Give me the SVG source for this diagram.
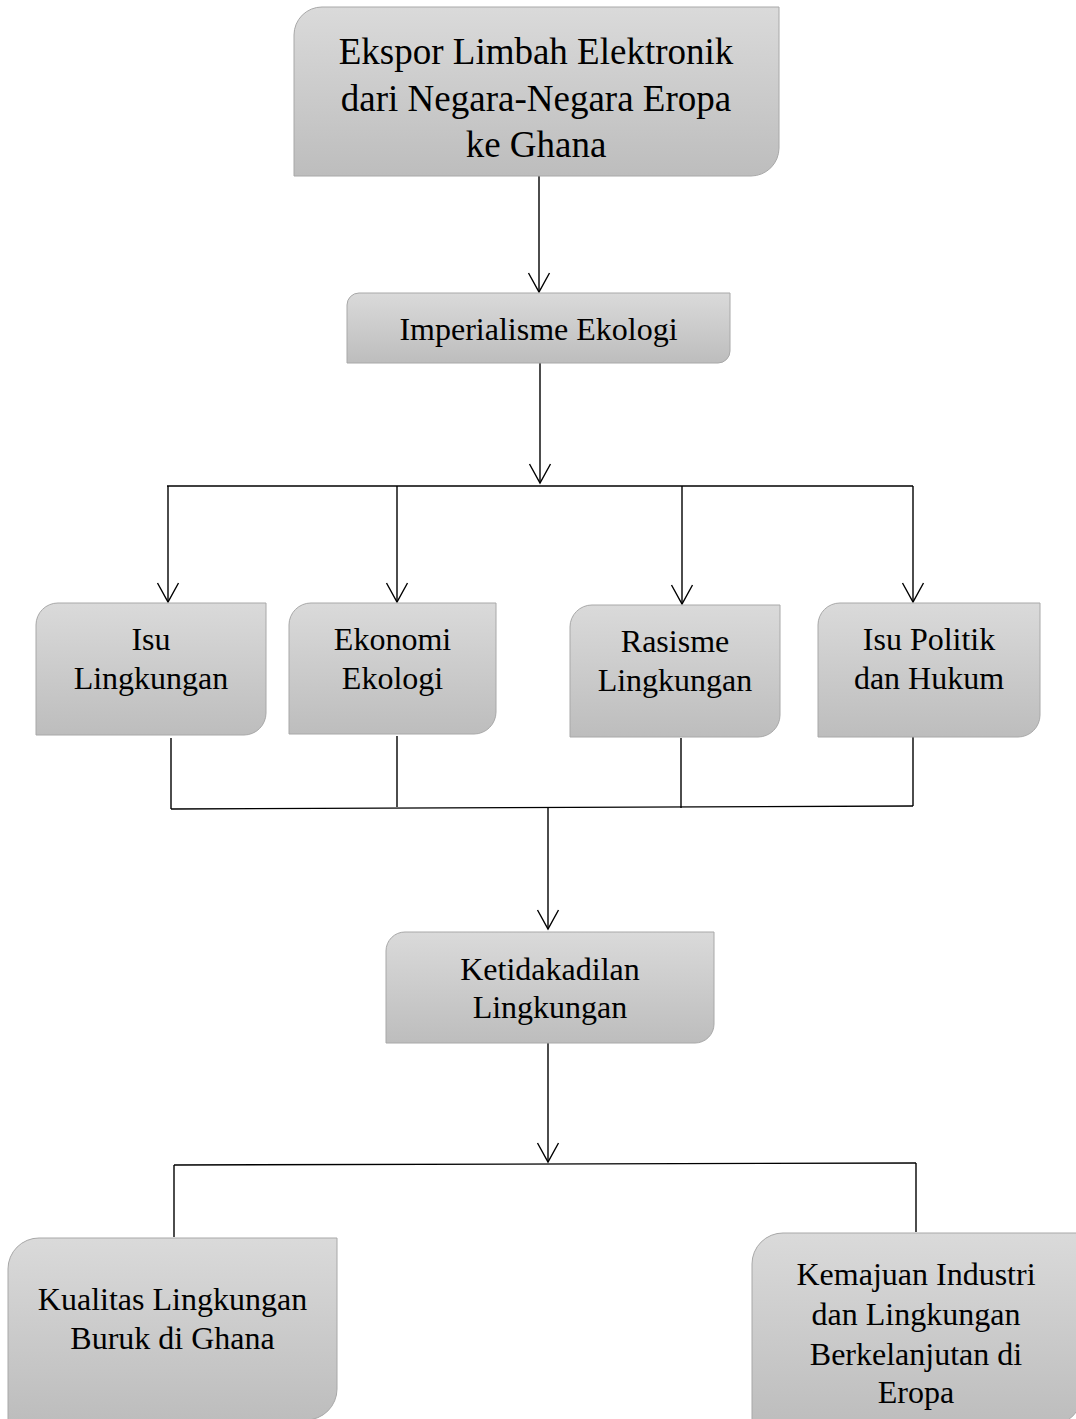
<svg xmlns="http://www.w3.org/2000/svg" width="1076" height="1419" viewBox="0 0 1076 1419">
<defs>
<linearGradient id="g" x1="0" y1="0" x2="0" y2="1">
<stop offset="0" stop-color="#dadada"/>
<stop offset="1" stop-color="#bdbdbd"/>
</linearGradient>
<marker id="arr" markerUnits="userSpaceOnUse" markerWidth="40" markerHeight="40" refX="0" refY="0" orient="auto" overflow="visible">
<path d="M-19,-10.5 L0,0 L-19,10.5" fill="none" stroke="#000" stroke-width="1.4"/>
</marker>
</defs>
<style>
.box{fill:url(#g);stroke:#a8a8a8;stroke-width:1}
.t{font-family:"Liberation Serif","Times New Roman",serif;font-size:32px;fill:#000;text-anchor:middle}
.big{font-size:37px}
.c{fill:none;stroke:#000;stroke-width:1.4}
</style>
<rect width="1076" height="1419" fill="#fff"/>
<g id="connectors">
<line class="c" x1="539" y1="176" x2="539" y2="292" marker-end="url(#arr)"/>
<line class="c" x1="540" y1="363" x2="540" y2="483" marker-end="url(#arr)"/>
<line class="c" x1="167" y1="486" x2="913" y2="486"/>
<line class="c" x1="168" y1="486" x2="168" y2="602" marker-end="url(#arr)"/>
<line class="c" x1="397" y1="486" x2="397" y2="602" marker-end="url(#arr)"/>
<line class="c" x1="682" y1="486" x2="682" y2="604" marker-end="url(#arr)"/>
<line class="c" x1="913" y1="486" x2="913" y2="602" marker-end="url(#arr)"/>
<line class="c" x1="171" y1="738" x2="171" y2="809"/>
<line class="c" x1="397" y1="736" x2="397" y2="807"/>
<line class="c" x1="681" y1="738" x2="681" y2="808"/>
<line class="c" x1="913" y1="737" x2="913" y2="806"/>
<line class="c" x1="171" y1="809" x2="913" y2="806"/>
<line class="c" x1="548" y1="808" x2="548" y2="929" marker-end="url(#arr)"/>
<line class="c" x1="548" y1="1043" x2="548" y2="1162" marker-end="url(#arr)"/>
<line class="c" x1="174" y1="1165" x2="916" y2="1163"/>
<line class="c" x1="174" y1="1165" x2="174" y2="1237"/>
<line class="c" x1="916" y1="1163" x2="916" y2="1232"/>
</g>
<g id="n1">
<path class="box" d="M294,35 A28,28 0 0 1 322,7 H779 V148 A28,28 0 0 1 751,176 H294 Z"/>
<text class="t big" x="536" y="64">Ekspor Limbah Elektronik</text>
<text class="t big" x="536" y="111">dari Negara-Negara Eropa</text>
<text class="t big" x="536" y="157">ke Ghana</text>
</g>
<g id="n2">
<path class="box" d="M347,305 A12,12 0 0 1 359,293 H730 V351 A12,12 0 0 1 718,363 H347 Z"/>
<text class="t" x="538.5" y="340">Imperialisme Ekologi</text>
</g>
<g id="n3">
<path class="box" d="M36,625 A22,22 0 0 1 58,603 H266 V713 A22,22 0 0 1 244,735 H36 Z"/>
<text class="t" x="151" y="650">Isu</text>
<text class="t" x="151" y="689">Lingkungan</text>
</g>
<g id="n4">
<path class="box" d="M289,625 A22,22 0 0 1 311,603 H496 V712 A22,22 0 0 1 474,734 H289 Z"/>
<text class="t" x="392.5" y="650">Ekonomi</text>
<text class="t" x="392.5" y="689">Ekologi</text>
</g>
<g id="n5">
<path class="box" d="M570,627 A22,22 0 0 1 592,605 H780 V715 A22,22 0 0 1 758,737 H570 Z"/>
<text class="t" x="675" y="652">Rasisme</text>
<text class="t" x="675" y="691">Lingkungan</text>
</g>
<g id="n6">
<path class="box" d="M818,625 A22,22 0 0 1 840,603 H1040 V715 A22,22 0 0 1 1018,737 H818 Z"/>
<text class="t" x="929" y="650">Isu Politik</text>
<text class="t" x="929" y="689">dan Hukum</text>
</g>
<g id="n7">
<path class="box" d="M386,951 A19,19 0 0 1 405,932 H714 V1024 A19,19 0 0 1 695,1043 H386 Z"/>
<text class="t" x="550" y="980">Ketidakadilan</text>
<text class="t" x="550" y="1018">Lingkungan</text>
</g>
<g id="n8">
<path class="box" d="M8,1269 A31,31 0 0 1 39,1238 H337 V1389 A31,31 0 0 1 306,1420 H8 Z"/>
<text class="t" x="172.5" y="1310">Kualitas Lingkungan</text>
<text class="t" x="172.5" y="1349">Buruk di Ghana</text>
</g>
<g id="n9">
<path class="box" d="M752,1264 A31,31 0 0 1 783,1233 H1082 V1394 A31,31 0 0 1 1051,1425 H752 Z"/>
<text class="t" x="916" y="1285">Kemajuan Industri</text>
<text class="t" x="916" y="1325">dan Lingkungan</text>
<text class="t" x="916" y="1365">Berkelanjutan di</text>
<text class="t" x="916" y="1403">Eropa</text>
</g>
</svg>
